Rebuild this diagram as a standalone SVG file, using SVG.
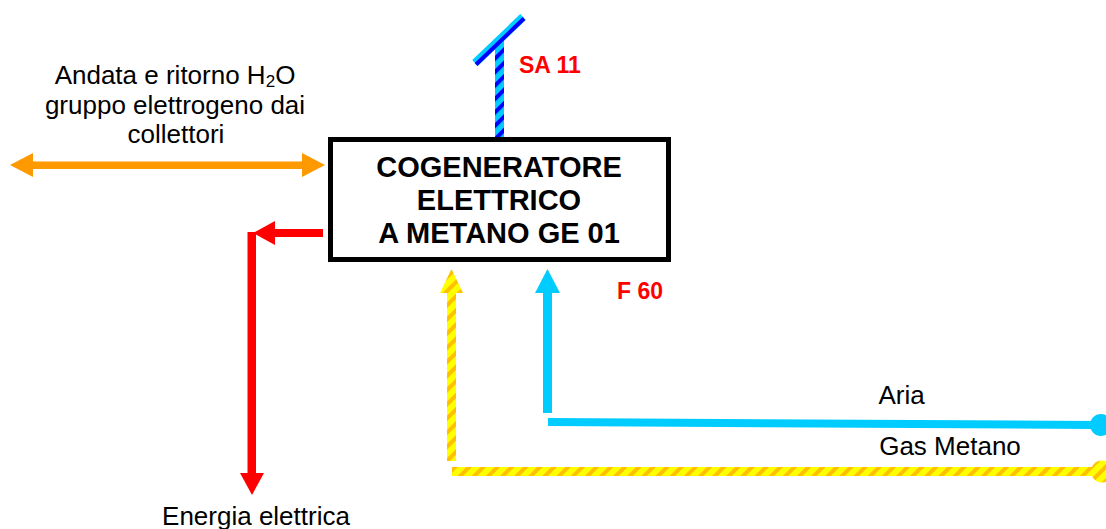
<svg xmlns="http://www.w3.org/2000/svg" width="1106" height="529" viewBox="0 0 1106 529">
<style>
.lbl{font-family:"Liberation Sans",Arial,sans-serif;font-size:26px;fill:#000;text-anchor:middle}
.tag{font-family:"Liberation Sans",Arial,sans-serif;font-size:23px;font-weight:bold;fill:#FF0000}
.box{fill:#fff;stroke:#000;stroke-width:5}
.boxt{font-family:"Liberation Sans",Arial,sans-serif;font-size:29px;font-weight:bold;fill:#000;text-anchor:middle}
</style>
<defs>
<pattern id="blueStripe" patternUnits="userSpaceOnUse" width="9.5" height="9.5" patternTransform="rotate(45)">
<rect width="9.5" height="9.5" fill="#00CCFF"/><rect width="4" height="9.5" fill="#0000FF"/>
</pattern>
<pattern id="yellowStripe" patternUnits="userSpaceOnUse" width="10" height="10" patternTransform="rotate(45)">
<rect width="10" height="10" fill="#FFFF00"/><rect width="4" height="10" fill="#FFC000"/>
</pattern>
</defs>
<rect width="1106" height="529" fill="#fff"/>
<g id="connectors">
  <g id="exhaust">
    <rect x="495" y="40" width="9" height="97" fill="url(#blueStripe)"/>
    <line x1="475" y1="63" x2="523" y2="17" stroke="#00CCFF" stroke-width="8"/>
    <line x1="476" y1="64.5" x2="524" y2="18.5" stroke="#0000FF" stroke-width="4"/>
  </g>
  <g id="water" fill="#FF9900">
    <rect x="32" y="161.5" width="271" height="7.5"/>
    <polygon points="10,165 33,153 33,177"/>
    <polygon points="325,165 302,153 302,177"/>
  </g>
  <g id="electric" fill="#FF0000">
    <rect x="274" y="229" width="49" height="8"/>
    <polygon points="253,233 275,221 275,245"/>
    <rect x="247.5" y="232" width="8.5" height="242"/>
    <polygon points="240,473 264,473 252,495"/>
  </g>
  <g id="air" fill="#00CCFF">
    <rect x="543" y="291" width="9" height="122"/>
    <polygon points="547.5,269 535,293 560,293"/>
    <polygon points="548,418 1095,421 1095,429 548,426"/>
    <circle cx="1101" cy="425" r="11"/>
  </g>
  <g id="gas" fill="url(#yellowStripe)">
    <rect x="447" y="291" width="9" height="170"/>
    <polygon points="451.5,269 440,293 463,293"/>
    <rect x="452" y="467" width="645" height="9"/>
    <circle cx="1102" cy="471.5" r="11"/>
  </g>
</g>
<g id="node-cogeneratore">
  <rect class="box" x="330.5" y="139.5" width="338" height="120"/>
  <text class="boxt" x="499" y="176.5">COGENERATORE</text>
  <text class="boxt" x="499" y="209.5">ELETTRICO</text>
  <text class="boxt" x="499" y="243">A METANO GE 01</text>
</g>
<g id="label-water">
  <text class="lbl" x="175" y="84">Andata e ritorno H<tspan font-size="17" dy="3">2</tspan><tspan dy="-3">O</tspan></text>
  <text class="lbl" x="175" y="114">gruppo elettrogeno dai</text>
  <text class="lbl" x="176" y="143">collettori</text>
</g>
<g id="label-sa11"><text class="tag" x="519" y="73">SA 11</text></g>
<g id="label-f60"><text class="tag" x="617" y="299">F 60</text></g>
<g id="label-aria"><text class="lbl" x="901.5" y="404">Aria</text></g>
<g id="label-gas"><text class="lbl" x="950" y="455">Gas Metano</text></g>
<g id="label-energia"><text class="lbl" x="256" y="525">Energia elettrica</text></g>
</svg>
